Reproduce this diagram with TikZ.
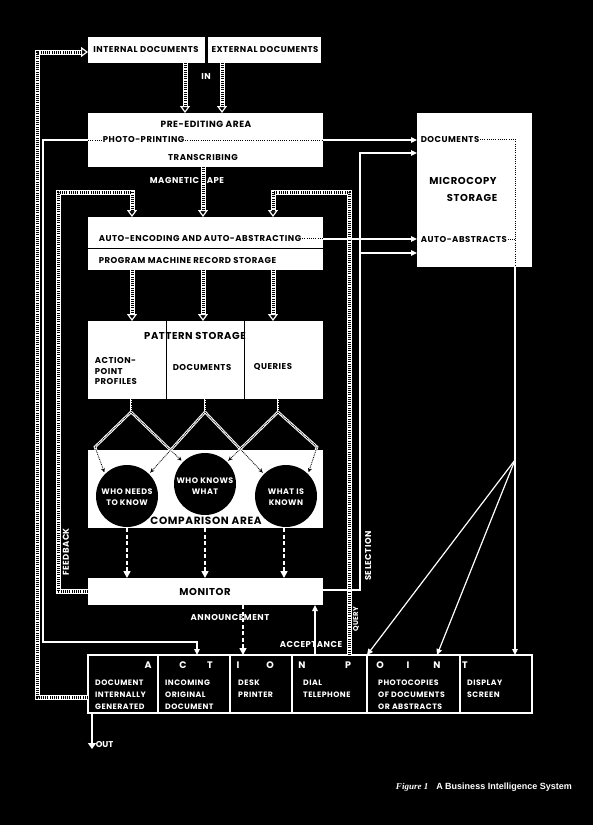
\documentclass[tikz,border=0pt]{standalone}
\usepackage{fontspec}
\setmainfont{Poppins}[LetterSpace=6]
\newfontfamily\plainpop{Poppins}
\newfontfamily\capsans{Liberation Sans}
\newfontfamily\capserif{Liberation Serif}
\usetikzlibrary{arrows.meta}
\begin{document}
\begin{tikzpicture}[x=1pt,y=-1pt,
  box/.style={fill=white, inner sep=0pt, outer sep=0pt, anchor=north west},
  abox/.style={draw=white, line width=1.1pt, fill=black, inner sep=0pt, outer sep=0pt, anchor=north west, minimum height=58pt},
  lb/.style={inner sep=0.6pt, text=black, font=\fontsize{8.5}{10}\selectfont\bfseries},
  wl/.style={lb, text=white},
  bigl/.style={lb, font=\fontsize{10}{11}\selectfont\bfseries},
  actl/.style={inner sep=0pt, text=white, font=\fontsize{9.5}{10}\selectfont\plainpop\bfseries},
  actt/.style={inner sep=0pt, text=white, anchor=west, align=left, font=\fontsize{7.8}{12}\selectfont\bfseries},
  ctxt/.style={wl, align=center, font=\fontsize{8}{11}\selectfont\bfseries},
  wire/.style={white, line width=1.2pt},
  warrow/.style={wire, -{Triangle[length=6pt,width=5.5pt]}},
  dasharrow/.style={white, line width=1.6pt, dash pattern=on 4pt off 2.5pt, -{Triangle[length=7pt,width=7pt]}},
  ladarrow/.style={white, line width=5pt, -{Triangle[open, length=7pt, width=10pt, line width=1.2pt]}, postaction={draw=black, line width=3pt, dash pattern=on 1pt off 1.2pt, arrows=-, shorten >=7pt}},
  tladder/.style={white, line width=2.6pt, postaction={draw=black, line width=0.8pt, dash pattern=on 0.9pt off 0.9pt, arrows=-}},
  leg/.style={tladder, -{Stealth[length=4pt, width=4pt, black]}, shorten >=2pt},
  leader/.style={black, line width=0.9pt, dash pattern=on 0.9pt off 1.3pt}
]
\fill[black] (0,0) rectangle (593,825);
\useasboundingbox (0,0) rectangle (593,825);

% ---------- input boxes
\node[box, minimum width=117pt, minimum height=26pt] (intd) at (88,37) {};
\node[lb] (intdt) at (146,50) {INTERNAL DOCUMENTS};
\node[box, minimum width=113pt, minimum height=26pt] (extd) at (208,37) {};
\node[lb] (extdt) at (265,50) {EXTERNAL DOCUMENTS};
\node[wl] (in) at (206,77) {IN};

% ---------- pre-editing
\node[box, minimum width=235pt, minimum height=54pt] (pre) at (88,113) {};
\node[lb, font=\fontsize{9}{10}\selectfont\bfseries] (pret) at (206,124) {PRE-EDITING AREA};
\node[lb, anchor=west] (pp) at (102,140) {PHOTO-PRINTING};
\draw[leader] (pre.west |- pp.west) -- (pp.west);
\draw[leader] (pp.east) -- (pre.east |- pp.east);
\node[lb] (tr) at (203,157) {TRANSCRIBING};
\node[wl] (mt) at (187,180) {MAGNETIC TAPE};

% ---------- auto-encoding
\node[box, minimum width=235pt, minimum height=53pt] (auto) at (88,217) {};
\draw[black, line width=1pt] (auto.west |- 0,248) -- (auto.east |- 0,248);
\node[lb, anchor=west] (ae) at (98,238) {AUTO-ENCODING AND AUTO-ABSTRACTING};
\draw[leader] (ae.east) -- (auto.east |- ae.east);
\node[lb, anchor=west] (pm) at (98,260) {PROGRAM MACHINE RECORD STORAGE};

% ---------- pattern storage
\node[box, minimum width=235pt, minimum height=78pt] (pat) at (88,321) {};
\draw[black, line width=1pt] (166,0 |- pat.north) -- (166,0 |- pat.south);
\draw[black, line width=1pt] (244,0 |- pat.north) -- (244,0 |- pat.south);
\node[bigl] (patt) at (195,336) {PATTERN STORAGE};
\node[lb, anchor=west, align=left, font=\fontsize{8.5}{10.5}\selectfont\bfseries] (apl) at (94,371) {ACTION-\\POINT\\PROFILES};
\node[lb, anchor=west] (pdoc) at (172,367) {DOCUMENTS};
\node[lb, anchor=west] (pq) at (253,367) {QUERIES};

% ---------- comparison area
\node[box, minimum width=235pt, minimum height=78pt] (comp) at (88,450) {};
\node[circle, fill=black, minimum size=62pt, inner sep=0pt] (c1) at (127,496) {};
\node[circle, fill=black, minimum size=62pt, inner sep=0pt] (c2) at (205,484) {};
\node[circle, fill=black, minimum size=62pt, inner sep=0pt] (c3) at (286,496) {};
\node[ctxt] (c1t) at (127,497) {WHO NEEDS\\TO KNOW};
\node[ctxt] (c2t) at (205,486) {WHO KNOWS\\WHAT};
\node[ctxt] (c3t) at (286,497) {WHAT IS\\KNOWN};
\node[bigl, font=\fontsize{10.5}{12}\selectfont\bfseries] (compt) at (206,521) {COMPARISON AREA};

% ---------- monitor
\node[box, minimum width=235pt, minimum height=27pt] (mon) at (88,578) {};
\node[bigl] (mont) at (205,592) {MONITOR};

% ---------- microcopy storage
\node[box, minimum width=115pt, minimum height=154pt] (micro) at (417,113) {};
\node[lb, anchor=west] (mdoc) at (420,139) {DOCUMENTS};
\node[lb, anchor=west] (mabs) at (420,239) {AUTO-ABSTRACTS};
\coordinate (mv1) at (515,139);
\coordinate (mv2) at (515,267);
\draw[leader] (mdoc.east) -- (mv1) -- (mv2);
\draw[leader] (mabs.east) -- (515,0 |- mabs.east);
\node[bigl] (mct) at (463,181) {MICROCOPY};
\node[bigl] (mst) at (472,198) {STORAGE};

% ---------- action point boxes
\node[abox, minimum width=70pt] (a1) at (88,655) {};
\node[abox, minimum width=72pt] (a2) at (158,655) {};
\node[abox, minimum width=62pt] (a3) at (230,655) {};
\node[abox, minimum width=75pt] (a4) at (292,655) {};
\node[abox, minimum width=93pt] (a5) at (367,655) {};
\node[abox, minimum width=72pt] (a6) at (460,655) {};
\node[actl] (lA) at (148,665) {A};
\node[actl] (lC) at (183,665) {C};
\node[actl] (lT) at (210,665) {T};
\node[actl] (lI) at (238,665) {I};
\node[actl] (lO) at (270,665) {O};
\node[actl] (lN) at (302,665) {N};
\node[actl] (lP) at (348,665) {P};
\node[actl] (lO2) at (380,665) {O};
\node[actl] (lI2) at (408,665) {I};
\node[actl] (lN2) at (437,665) {N};
\node[actl] (lT2) at (465,665) {T};
\node[actt] (a1t) at (95,695) {DOCUMENT\\INTERNALLY\\GENERATED};
\node[actt] (a2t) at (165,695) {INCOMING\\ORIGINAL\\DOCUMENT};
\node[actt] (a3t) at (238,689) {DESK\\PRINTER};
\node[actt] (a4t) at (303,689) {DIAL\\TELEPHONE};
\node[actt] (a5t) at (378,695) {PHOTOCOPIES\\OF DOCUMENTS\\OR ABSTRACTS};
\node[actt] (a6t) at (467,689) {DISPLAY\\SCREEN};

% ---------- ladder (striped) connectors
\draw[ladarrow] (185,0 |- intd.south) -- (185,0 |- pre.north);
\draw[ladarrow] (222,0 |- extd.south) -- (222,0 |- pre.north);
\draw[ladarrow] (203,0 |- pre.south) -- (203,0 |- auto.north);
\draw[ladarrow] (132,0 |- auto.south) -- (132,0 |- pat.north);
\draw[ladarrow] (203,0 |- auto.south) -- (203,0 |- pat.north);
\draw[ladarrow] (273,0 |- auto.south) -- (273,0 |- pat.north);
\draw[ladarrow] (mon.west) -- (58,0 |- mon.west) -- (58,192) -- (132,192) -- (132,0 |- auto.north);
\draw[ladarrow] (349,0 |- a4.north) -- (349,192) -- (273,192) -- (273,0 |- auto.north);
\draw[ladarrow] (a1.west |- 0,697) -- (37,697) -- (37,52) -- (intd.west |- 0,52);

% ---------- pattern to comparison legs
\coordinate (ap1) at (131,412);
\coordinate (ap2) at (205,412);
\coordinate (ap3) at (278,412);
\draw[tladder] (131,0 |- pat.south) -- (ap1);
\draw[tladder] (205,0 |- pat.south) -- (ap2);
\draw[tladder] (278,0 |- pat.south) -- (ap3);
\draw[leg] (ap1) -- (95,447) -- (c1.135);
\draw[leg] (ap1) -- (c2.135);
\draw[leg] (ap2) -- (c1.45);
\draw[leg] (ap2) -- (c3.135);
\draw[leg] (ap3) -- (c2.45);
\draw[leg] (ap3) -- (317,447) -- (c3.45);

% ---------- comparison to monitor
\draw[dasharrow] (127,0 |- comp.south) -- (127,0 |- mon.north);
\draw[dasharrow] (205,0 |- comp.south) -- (205,0 |- mon.north);
\draw[dasharrow] (284,0 |- comp.south) -- (284,0 |- mon.north);

% ---------- thin connectors
\draw[warrow] (pre.west |- 0,140) -- (43,140) -- (43,642) -- (197,642) -- (197,0 |- a2.north);
\draw[warrow] (pre.east |- 0,140) -- (micro.west |- 0,140);
\draw[warrow] (auto.east |- 0,239) -- (micro.west |- 0,239);
\draw[warrow] (mon.east |- 0,590) -- (360,590) -- (360,153) -- (micro.west |- 0,153);
\draw[warrow] (360,253) -- (micro.west |- 0,253);
\draw[wire] (mv2) -- (515,460) coordinate (br);
\draw[warrow] (br) -- (515,0 |- a6.north);
\draw[warrow] (br) -- (a4.north east);
\draw[warrow] (br) -- (437,0 |- a5.north);
\draw[dasharrow] (243,0 |- mon.south) -- (243,0 |- a3.north);
\draw[warrow] (315,0 |- a4.north) -- (315,0 |- mon.south);

% ---------- connector labels
\node[wl] (ann) at (230,617) {ANNOUNCEMENT};
\node[wl] (acc) at (311,644) {ACCEPTANCE};
\node[wl, rotate=90] (fb) at (66,552) {FEEDBACK};
\node[wl, rotate=90] (sel) at (368,556) {SELECTION};
\node[wl, rotate=90, font=\fontsize{7}{8}\selectfont\bfseries] (qu) at (356,619) {QUERY};

% ---------- out
\draw[white, line width=2.4pt, -{Triangle[length=6pt,width=8pt]}] (92,0 |- a1.south) -- (92,749);
\node[wl, anchor=west, font=\fontsize{8.5}{10}\selectfont\plainpop\bfseries] (out) at (95,744) {OUT};

% ---------- caption
\node[anchor=east, text=white, inner sep=0pt] (cap) at (572,787) {\fontsize{9}{10}\selectfont{\capserif\bfseries\itshape Figure 1}\hspace{8pt}{\capsans\bfseries A Business Intelligence System}};
\end{tikzpicture}
\end{document}
